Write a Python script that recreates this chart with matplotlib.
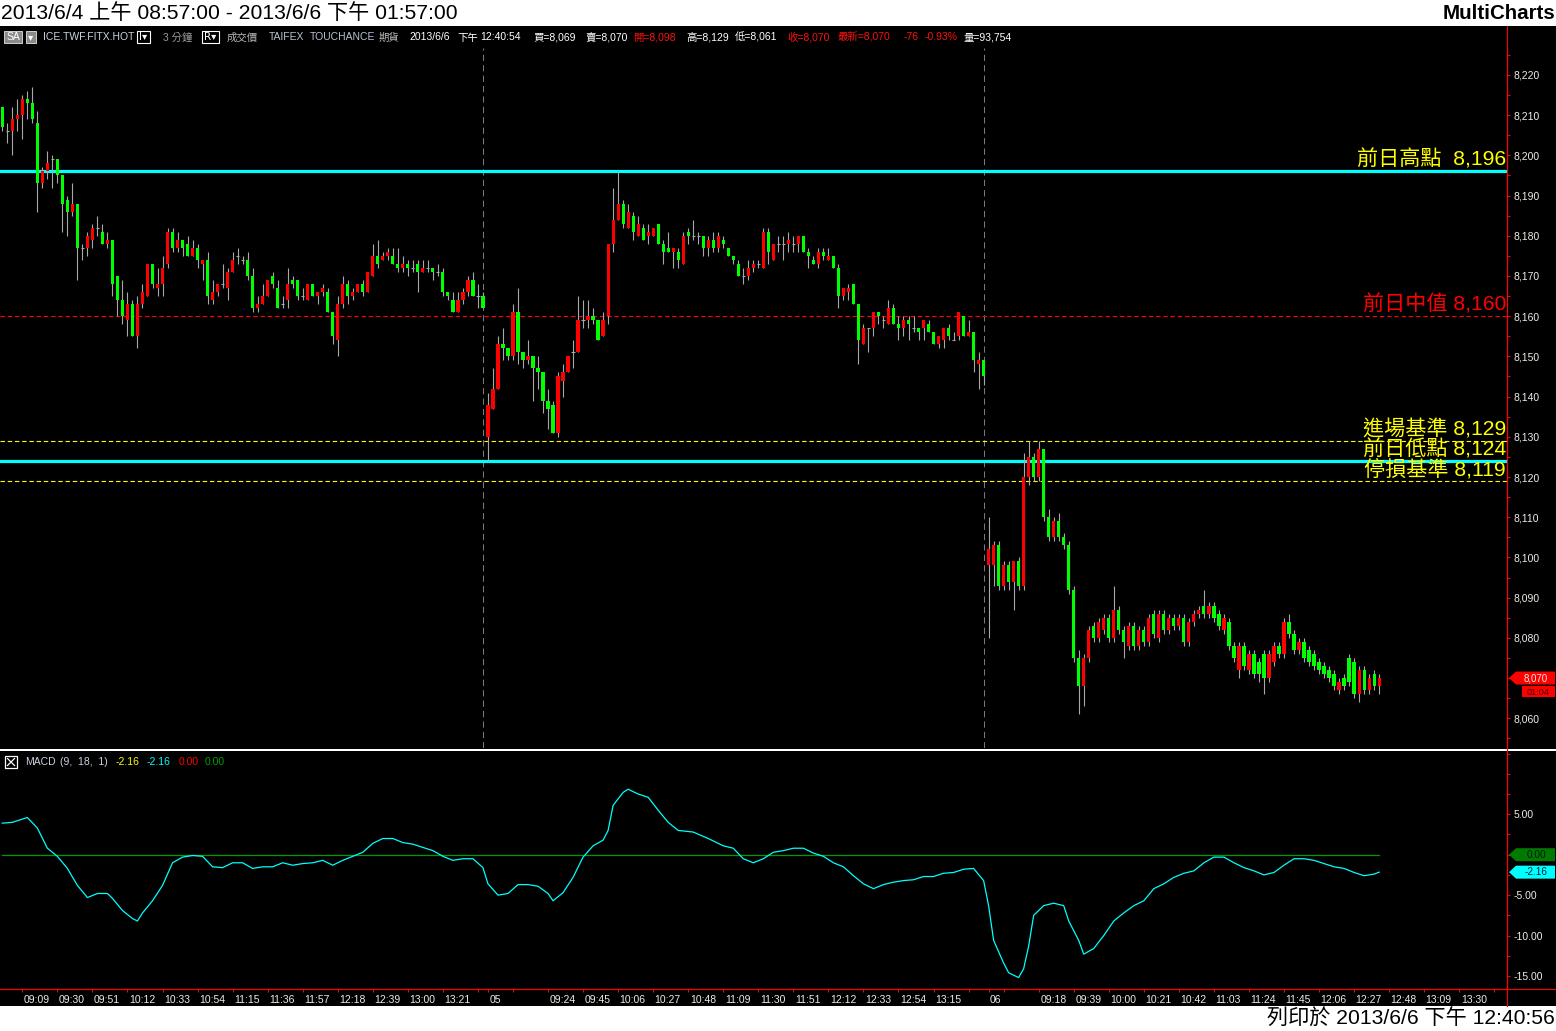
import matplotlib
matplotlib.use('Agg')
import matplotlib.pyplot as plt
import numpy as np
from matplotlib.patches import Polygon, Rectangle
from matplotlib.ticker import FixedLocator, MultipleLocator, FuncFormatter
from matplotlib.transforms import ScaledTranslation, blended_transform_factory

W, H = 1556, 1031
FONT = ['Liberation Sans', 'Noto Sans CJK TC', 'DejaVu Sans']
plt.rcParams['font.family'] = FONT

# ---------------- data (3-minute bars, TAIFEX FITX) ----------------
day1_open = [8212, 8206, 8206, 8209, 8210, 8214, 8213, 8208, 8193, 8196, 8199, 8199, 8195, 8189, 8186, 8188,
             8177, 8177, 8179, 8182, 8181, 8178, 8179, 8170, 8164, 8159, 8163, 8155, 8163, 8165, 8173, 8167,
             8168, 8173, 8181, 8177, 8179, 8178, 8175, 8177, 8173, 8174, 8164, 8166, 8168, 8167, 8171, 8175,
             8174, 8174, 8170, 8162, 8163, 8165, 8170, 8167, 8163, 8164, 8169, 8169, 8165, 8164, 8168, 8165,
             8166, 8166, 8161, 8154, 8163, 8168, 8165, 8166, 8168, 8166, 8170, 8175, 8174, 8175, 8175, 8173,
             8172, 8173, 8172, 8173, 8171, 8172, 8172, 8171, 8171, 8166, 8164, 8161, 8164, 8166, 8169, 8165, 8165]
day1_high = [8212, 8208, 8212, 8214, 8215, 8216, 8217, 8211, 8197, 8201, 8200, 8199, 8195, 8190, 8193, 8188,
             8178, 8181, 8183, 8185, 8183, 8181, 8179, 8170, 8169, 8166, 8164, 8165, 8168, 8173, 8173, 8172,
             8175, 8182, 8182, 8181, 8179, 8180, 8179, 8178, 8174, 8176, 8169, 8168, 8173, 8172, 8176, 8177,
             8175, 8176, 8172, 8165, 8168, 8169, 8171, 8169, 8165, 8172, 8170, 8169, 8167, 8168, 8168, 8166,
             8168, 8167, 8161, 8165, 8170, 8169, 8167, 8168, 8169, 8171, 8178, 8179, 8176, 8177, 8177, 8177,
             8175, 8174, 8174, 8174, 8174, 8174, 8172, 8173, 8172, 8166, 8166, 8166, 8167, 8170, 8171, 8168, 8166]
day1_low = [8206, 8203, 8200, 8206, 8204, 8209, 8208, 8186, 8192, 8194, 8192, 8193, 8181, 8180, 8185, 8169,
            8174, 8175, 8177, 8180, 8178, 8177, 8165, 8160, 8158, 8155, 8155, 8152, 8162, 8165, 8167, 8165,
            8165, 8172, 8176, 8176, 8175, 8175, 8175, 8172, 8169, 8163, 8163, 8165, 8167, 8164, 8171, 8173,
            8173, 8169, 8161, 8161, 8163, 8165, 8167, 8162, 8162, 8162, 8167, 8164, 8164, 8164, 8165, 8163,
            8165, 8161, 8153, 8150, 8162, 8163, 8164, 8166, 8165, 8166, 8170, 8172, 8174, 8174, 8173, 8171,
            8171, 8170, 8171, 8166, 8171, 8171, 8169, 8170, 8165, 8164, 8161, 8161, 8163, 8165, 8165, 8162, 8162]
day1_close = [8207, 8206, 8209, 8210, 8214, 8213, 8209, 8193, 8196, 8198, 8199, 8195, 8188, 8186, 8188, 8177,
              8177, 8180, 8182, 8182, 8178, 8179, 8168, 8164, 8160, 8163, 8155, 8163, 8166, 8173, 8168, 8168,
              8172, 8181, 8177, 8179, 8177, 8175, 8177, 8174, 8174, 8165, 8166, 8168, 8168, 8171, 8174, 8175,
              8174, 8170, 8162, 8163, 8165, 8169, 8168, 8162, 8163, 8168, 8168, 8165, 8165, 8168, 8165, 8166,
              8167, 8161, 8155, 8163, 8168, 8165, 8166, 8168, 8166, 8171, 8175, 8173, 8175, 8176, 8173, 8172,
              8173, 8172, 8172, 8171, 8172, 8172, 8171, 8171, 8166, 8165, 8161, 8164, 8166, 8169, 8165, 8165, 8162]

day2_open = [8130, 8137, 8142, 8153, 8152, 8150, 8161, 8151, 8149, 8150, 8147, 8146, 8139, 8138, 8131, 8144,
             8146, 8151, 8151, 8159, 8159, 8160, 8159, 8155, 8160, 8178, 8184, 8188, 8182, 8185, 8180, 8182,
             8180, 8180, 8183, 8178, 8177, 8176, 8176, 8173, 8181, 8180, 8180, 8180, 8177, 8179, 8177, 8179,
             8177, 8175, 8173, 8170, 8170, 8172, 8173, 8172, 8181, 8174, 8178, 8178, 8178, 8178, 8178, 8180,
             8176, 8174, 8173, 8176, 8174, 8175, 8172, 8165, 8166, 8168, 8163, 8153, 8157, 8157, 8161, 8159,
             8158, 8162, 8158, 8157, 8159, 8157, 8157, 8157, 8158, 8156, 8153, 8154, 8157, 8154, 8155, 8160,
             8155, 8156, 8148, 8149]
day2_high = [8141, 8147, 8155, 8157, 8152, 8163, 8167, 8151, 8154, 8150, 8150, 8146, 8142, 8139, 8146, 8148,
             8150, 8154, 8165, 8164, 8164, 8162, 8159, 8161, 8178, 8192, 8196, 8189, 8188, 8186, 8185, 8183,
             8183, 8182, 8183, 8179, 8181, 8177, 8177, 8181, 8182, 8184, 8181, 8180, 8180, 8181, 8181, 8180,
             8177, 8175, 8174, 8172, 8174, 8174, 8174, 8182, 8182, 8178, 8180, 8180, 8181, 8180, 8180, 8180,
             8177, 8175, 8177, 8177, 8177, 8175, 8173, 8167, 8168, 8168, 8163, 8158, 8157, 8161, 8161, 8160,
             8164, 8163, 8160, 8160, 8160, 8160, 8157, 8159, 8159, 8156, 8155, 8157, 8158, 8156, 8161, 8160,
             8159, 8156, 8151, 8149]
day2_low = [8124, 8137, 8142, 8149, 8149, 8149, 8148, 8147, 8148, 8139, 8142, 8136, 8132, 8131, 8130, 8140,
            8146, 8147, 8151, 8157, 8157, 8158, 8154, 8155, 8158, 8176, 8184, 8182, 8182, 8179, 8180, 8179,
            8178, 8180, 8178, 8173, 8176, 8172, 8172, 8173, 8178, 8179, 8178, 8175, 8175, 8176, 8176, 8177,
            8175, 8173, 8170, 8168, 8169, 8171, 8172, 8172, 8173, 8174, 8176, 8174, 8176, 8176, 8176, 8176,
            8172, 8173, 8172, 8174, 8174, 8172, 8162, 8164, 8164, 8163, 8148, 8153, 8151, 8155, 8158, 8157,
            8158, 8158, 8154, 8155, 8154, 8156, 8154, 8154, 8156, 8153, 8152, 8152, 8154, 8154, 8154, 8155,
            8155, 8146, 8142, 8143]
day2_close = [8138, 8142, 8153, 8152, 8150, 8161, 8151, 8149, 8150, 8147, 8146, 8139, 8137, 8131, 8145, 8146,
              8150, 8151, 8159, 8159, 8160, 8159, 8154, 8159, 8178, 8184, 8188, 8183, 8186, 8181, 8183, 8179,
              8181, 8182, 8178, 8176, 8176, 8177, 8174, 8180, 8180, 8180, 8180, 8177, 8179, 8177, 8180, 8178,
              8175, 8174, 8170, 8170, 8172, 8173, 8173, 8181, 8176, 8178, 8178, 8178, 8179, 8178, 8180, 8176,
              8175, 8173, 8176, 8175, 8175, 8172, 8165, 8167, 8167, 8163, 8154, 8157, 8157, 8161, 8160, 8159,
              8162, 8158, 8157, 8159, 8158, 8157, 8156, 8159, 8156, 8153, 8155, 8157, 8155, 8154, 8161, 8155,
              8156, 8149, 8149, 8145]

day3_open = [8098, 8098, 8103, 8093, 8098, 8094, 8099, 8093, 8120, 8125, 8120, 8127, 8110, 8105, 8109, 8105,
             8103, 8092, 8075, 8068, 8075, 8083, 8080, 8082, 8085, 8080, 8087, 8082, 8078, 8083, 8078, 8082,
             8079, 8086, 8080, 8086, 8082, 8085, 8083, 8085, 8079, 8084, 8086, 8088, 8086, 8088, 8086, 8082,
             8084, 8078, 8072, 8078, 8072, 8076, 8074, 8076, 8070, 8074, 8078, 8076, 8084, 8081, 8077, 8079,
             8077, 8076, 8074, 8073, 8072, 8071, 8067, 8070, 8075, 8074, 8066, 8072, 8067, 8071, 8068]
day3_high = [8110, 8104, 8104, 8099, 8099, 8096, 8100, 8126, 8129, 8126, 8129, 8127, 8112, 8110, 8111, 8106,
             8104, 8093, 8077, 8076, 8083, 8084, 8085, 8086, 8086, 8093, 8088, 8083, 8084, 8084, 8083, 8083,
             8086, 8087, 8087, 8087, 8086, 8086, 8086, 8086, 8085, 8087, 8088, 8092, 8089, 8089, 8087, 8086,
             8085, 8079, 8079, 8079, 8077, 8077, 8075, 8077, 8077, 8079, 8079, 8085, 8086, 8082, 8080, 8080,
             8078, 8077, 8075, 8074, 8073, 8072, 8070, 8071, 8076, 8075, 8073, 8073, 8071, 8072, 8071]
day3_low = [8080, 8093, 8092, 8092, 8092, 8087, 8092, 8092, 8118, 8119, 8119, 8109, 8104, 8104, 8104, 8102,
            8091, 8074, 8061, 8063, 8074, 8079, 8079, 8081, 8079, 8079, 8081, 8075, 8077, 8077, 8077, 8078,
            8078, 8080, 8079, 8081, 8081, 8082, 8082, 8078, 8078, 8083, 8085, 8085, 8085, 8084, 8082, 8081,
            8077, 8074, 8070, 8072, 8071, 8070, 8069, 8066, 8069, 8073, 8075, 8075, 8080, 8076, 8076, 8074,
            8073, 8072, 8071, 8070, 8069, 8067, 8066, 8067, 8068, 8065, 8064, 8066, 8066, 8067, 8066]
day3_close = [8102, 8103, 8093, 8098, 8094, 8099, 8093, 8120, 8125, 8120, 8127, 8110, 8105, 8109, 8105, 8103,
              8092, 8075, 8068, 8075, 8082, 8080, 8084, 8085, 8080, 8087, 8082, 8079, 8083, 8078, 8082, 8079,
              8085, 8081, 8086, 8082, 8085, 8083, 8085, 8079, 8084, 8086, 8087, 8086, 8088, 8085, 8083, 8085,
              8078, 8075, 8078, 8073, 8076, 8071, 8071, 8070, 8076, 8078, 8076, 8084, 8081, 8077, 8079, 8075,
              8074, 8073, 8072, 8071, 8070, 8068, 8069, 8068, 8069, 8066, 8072, 8067, 8070, 8068, 8070]

macd_bar = [0, 2, 4, 5, 7, 9, 11, 13, 15, 17, 19, 21, 22, 24, 26, 27, 28, 30, 32, 34, 36, 38, 40, 42, 44, 46,
            48, 50, 52, 54, 56, 58, 60, 62, 64, 66, 68, 70, 72, 74, 76, 78, 80, 82, 84, 86, 88, 90, 92, 94, 96,
            97, 99, 101, 103, 105, 107, 109, 110, 112, 114, 116, 118, 120, 121, 122, 124, 125, 127, 129, 131,
            133, 135, 138, 141, 144, 146, 148, 150, 152, 154, 156, 158, 160, 162, 164, 166, 168, 170, 172,
            174, 176, 178, 180, 182, 184, 186, 188, 190, 192, 194, 196, 197, 198, 200, 201, 203, 204, 205,
            206, 208, 210, 212, 213, 215, 216, 218, 220, 222, 224, 226, 228, 230, 232, 234, 236, 238, 240,
            242, 244, 246, 248, 250, 252, 254, 256, 258, 260, 262, 264, 266, 268, 270, 272, 274, 275]
macd_val = [3.9, 4.0, 4.4, 4.6, 3.3, 0.8, -0.2, -1.7, -3.8, -5.3, -4.8, -4.8, -5.4, -6.9, -7.9, -8.2, -7.2,
            -5.7, -3.8, -1.0, -0.3, -0.1, -0.2, -1.5, -1.6, -1.0, -1.0, -1.7, -1.5, -1.5, -1.0, -1.3, -1.1,
            -1.0, -0.7, -1.3, -0.7, -0.2, 0.3, 1.4, 2.0, 2.0, 1.5, 1.3, 0.9, 0.5, -0.2, -0.7, -0.5, -0.5,
            -1.6, -3.6, -5.0, -4.8, -3.7, -3.7, -3.9, -4.8, -5.7, -4.7, -2.8, -0.3, 1.1, 1.8, 3.0, 6.1, 7.7,
            8.1, 7.5, 7.1, 5.5, 4.0, 3.0, 2.8, 2.0, 1.1, 0.8, -0.5, -1.0, -0.5, 0.3, 0.5, 0.8, 0.8, 0.2,
            -0.2, -1.0, -1.5, -2.6, -3.6, -4.2, -3.7, -3.4, -3.2, -3.1, -2.7, -2.7, -2.3, -2.2, -1.8, -1.7,
            -3.2, -6.3, -10.6, -13.4, -14.6, -15.2, -14.1, -11.3, -7.5, -6.3, -6.0, -6.3, -8.2, -10.6,
            -12.3, -11.6, -10.0, -8.2, -7.2, -6.3, -5.7, -4.2, -3.6, -2.8, -2.3, -2.0, -1.0, -0.3, -0.3,
            -1.0, -1.6, -2.0, -2.5, -2.2, -1.3, -0.5, -0.5, -0.7, -1.1, -1.5, -1.7, -2.2, -2.6, -2.4, -2.16]

ref_levels = [8196, 8160, 8129, 8124, 8119]
ref_labels = ['前日高點  8,196', '前日中值 8,160', '進場基準 8,129', '前日低點 8,124', '停損基準 8,119']

day_end_bars = [96, 196]
time_tick_bars = [4, 11, 18, 25, 32, 39, 46, 53, 60, 67, 74, 81, 88, 95, 97, 102, 109, 116, 123, 130, 137,
                  144, 151, 158, 165, 172, 179, 186, 193, 197, 200, 207, 214, 221, 228, 235, 242, 249, 256,
                  263, 270, 277, 284, 291, 298]
time_tick_labels = ['09:09', '09:30', '09:51', '10:12', '10:33', '10:54', '11:15', '11:36', '11:57', '12:18',
                    '12:39', '13:00', '13:21', '', '05', '', '09:24', '09:45', '10:06', '10:27', '10:48',
                    '11:09', '11:30', '11:51', '12:12', '12:33', '12:54', '13:15', '', '06', '', '09:18',
                    '09:39', '10:00', '10:21', '10:42', '11:03', '11:24', '11:45', '12:06', '12:27', '12:48',
                    '13:09', '13:30', '']
price_ticks = list(range(8060, 8221, 10))
macd_ticks = [5, 0, -5, -10, -15]
last_price = 8070
last_macd = -2.16
bar_countdown = '01:04'

# ---------------- figure ----------------
o = np.array(day1_open + day2_open + day3_open, float)
h = np.array(day1_high + day2_high + day3_high, float)
l = np.array(day1_low + day2_low + day3_low, float)
c = np.array(day1_close + day2_close + day3_close, float)
n = len(o)
idx = np.arange(n)

fig = plt.figure(figsize=(W / 100, H / 100), dpi=100, facecolor='white')


def box(x0, y0, x1, y1):
    return [x0 / W, 1 - y1 / H, (x1 - x0) / W, (y1 - y0) / H]


bg = fig.add_axes(box(0, 26, W, 1006))
bg.set_facecolor('black')
bg.set_xticks([]); bg.set_yticks([])
for s in bg.spines.values():
    s.set_visible(False)

XL = (-0.46, 300.54)
TICKC = '#EDEDE6'

# ---- price pane ----
ax = fig.add_axes(box(0, 48, 1507, 748))
ax.set_facecolor('black')
ax.set_xlim(*XL)
ax.set_ylim(8052.6, 8226.7)
for k in ('left', 'top', 'bottom'):
    ax.spines[k].set_visible(False)
ax.spines['right'].set_color('red')
ax.spines['right'].set_linewidth(0.8)
ax.set_xticks([])
ax.yaxis.tick_right()
ax.yaxis.set_major_locator(FixedLocator(price_ticks))
ax.yaxis.set_minor_locator(MultipleLocator(5))
# the axis label under the last-price tag is hidden by the tag in the reference
ax.yaxis.set_major_formatter(FuncFormatter(
    lambda v, p: '' if abs(v - last_price) < 1e-6 else f'{int(round(v)):,}'))
ax.tick_params(axis='y', which='both', colors='red', labelcolor=TICKC, length=2.5, width=0.8,
               direction='out', pad=2.5, labelsize=7.5)

for b in day_end_bars:
    ax.axvline(b, color='#7A7A7A', lw=0.75, ls=(0, (6, 4)), zorder=1)

ax.axhline(ref_levels[0], color='#00FFFF', lw=2.3, zorder=2)
ax.axhline(ref_levels[3], color='#00FFFF', lw=2.3, zorder=2)
ax.axhline(ref_levels[1], color='#FF0000', lw=0.8, ls=(0, (4, 2.5)), zorder=2)
ax.axhline(ref_levels[2], color='#FFFF00', lw=0.8, ls=(0, (4, 2.5)), zorder=2)
ax.axhline(ref_levels[4], color='#FFFF00', lw=0.8, ls=(0, (4, 2.5)), zorder=2)

up = c > o
dn = c < o
eq = c == o
ax.vlines(idx, l, h, color='#A8A8A8', lw=0.8, zorder=3)
ax.bar(idx[up], (c - o)[up], bottom=o[up], width=0.64, color='#FF0000', lw=0, zorder=4)
ax.bar(idx[dn], (o - c)[dn], bottom=c[dn], width=0.64, color='#00FF00', lw=0, zorder=4)
ax.hlines(c[eq], idx[eq] - 0.32, idx[eq] + 0.32, color='#A8A8A8', lw=0.8, zorder=4)

ref_colors = ['#FFFF00', '#FF0000', '#FFFF00', '#FFFF00', '#FFFF00']
tr = blended_transform_factory(ax.transAxes, ax.transData)
for lv, lab, col in zip(ref_levels, ref_labels, ref_colors):
    t = ax.text(0.9994, lv, lab, transform=tr, ha='right', va='bottom', color=col, fontsize=15.2, zorder=6)
    t.set_transform(tr + ScaledTranslation(0, 1.5 / 100, fig.dpi_scale_trans))

# ---- MACD pane ----
m = fig.add_axes(box(0, 752, 1507, 989))
m.set_facecolor('black')
m.set_xlim(*XL)
m.set_ylim(-16.61, 12.70)
for k in ('left', 'top'):
    m.spines[k].set_visible(False)
m.spines['right'].set_color('red')
m.spines['bottom'].set_color('red')
m.spines['right'].set_linewidth(0.8)
m.spines['bottom'].set_linewidth(0.8)
m.yaxis.tick_right()
m.yaxis.set_major_locator(FixedLocator(macd_ticks))
m.yaxis.set_minor_locator(MultipleLocator(2.5))
m.yaxis.set_major_formatter(FuncFormatter(lambda v, p: '' if abs(v) < 1e-9 else f'{v:.2f}'))
m.tick_params(axis='y', which='both', colors='red', labelcolor=TICKC, length=2.5, width=0.8,
              direction='out', pad=2.5, labelsize=7.5)
m.set_xticks(time_tick_bars)
m.set_xticklabels(time_tick_labels)
m.tick_params(axis='x', colors='red', labelcolor=TICKC, length=2.5, width=0.8, direction='out',
              pad=2.0, labelsize=7.5)
for lab in m.get_xticklabels():
    lab.set_ha('left')
    lab.set_transform(lab.get_transform() + ScaledTranslation(1.5 / 100, 0, fig.dpi_scale_trans))

m.plot([0, n - 1], [0, 0], color='#009A00', lw=0.9, zorder=2)
m.plot(macd_bar, macd_val, color='#00FFFF', lw=0.9, zorder=3)

# ---- overlay (chrome) ----
ov = fig.add_axes([0, 0, 1, 1], facecolor='none')
ov.set_xlim(0, W)
ov.set_ylim(H, 0)
ov.axis('off')


def ypx(axis, v):
    return H - axis.transData.transform((0, v))[1]


ov.add_patch(Rectangle((0, 748.6), W, 2.6, color='white', lw=0))
ov.plot([1507.5, 1507.5], [26, 1006], color='red', lw=0.8)
ov.plot([0, W], [988.8, 988.8], color='red', lw=0.8)

# title / footer
ov.text(1, 13.5, '2013/6/4 上午 08:57:00 - 2013/6/6 下午 01:57:00', fontsize=15.2, color='black',
        ha='left', va='center')
ov.text(1555, 13.5, 'MultiCharts', fontsize=14.8, fontweight='bold', color='black', ha='right', va='center')
ov.text(1555, 1019, '列印於 2013/6/6 下午 12:40:56', fontsize=15.2, color='black', ha='right', va='center')

# info bar
FS = 7.5
YI = 37.5
ov.add_patch(Rectangle((4, 31), 18, 12, facecolor='#8A8A8A', edgecolor='#D0D0D0', lw=0.7))
ov.text(13, YI, 'SA', fontsize=FS, color='white', ha='center', va='center')
ov.add_patch(Rectangle((26, 31), 10, 12, facecolor='#8A8A8A', edgecolor='#D0D0D0', lw=0.7))
ov.text(31, YI, '▾', fontsize=FS, color='white', ha='center', va='center', family='DejaVu Sans')
ov.add_patch(Rectangle((137, 31), 13, 12, facecolor='black', edgecolor='white', lw=0.8))
ov.text(143.5, YI, 'I▾', fontsize=FS, color='white', ha='center', va='center', family='DejaVu Sans')
ov.add_patch(Rectangle((202, 31), 17, 12, facecolor='black', edgecolor='white', lw=0.8))
ov.text(210.5, YI, 'R▾', fontsize=FS, color='white', ha='center', va='center', family='DejaVu Sans')
info = [(43, 'ICE.TWF.FITX.HOT', '#C9D2E2'), (163, '3 分鐘', '#9A9A9A'), (227, '成交價', '#B8B8B8'),
        (269, 'TAIFEX', '#B8C0D0'), (310, 'TOUCHANCE', '#B8C0D0'), (379, '期貨', '#B8B8B8'),
        (409, '2013/6/6', 'white'), (457, '下午', 'white'), (480, '12:40:54', 'white'),
        (533, '買=8,069', 'white'), (585, '賣=8,070', 'white'), (633, '開=8,098', '#FF1010'),
        (686, '高=8,129', 'white'), (735, '低=8,061', 'white'), (787, '收=8,070', '#FF1010'),
        (838, '最新=8,070', '#FF1010'), (904, '-76', '#FF1010'), (925, '-0.93%', '#FF1010'),
        (964, '量=93,754', 'white')]
for x0, s, col in info:
    ov.text(x0, YI, s, fontsize=FS, color=col, ha='left', va='center')

# MACD legend
ov.add_patch(Rectangle((5, 756), 12, 12, facecolor='black', edgecolor='white', lw=0.9))
ov.plot([7.5, 14.5], [758.5, 765.5], color='white', lw=0.9)
ov.plot([7.5, 14.5], [765.5, 758.5], color='white', lw=0.9)
leg = [(25, 'MACD', '#C9D2E2'), (60, '(9,  18,  1)', '#C9D2E2'), (116, '-2.16', '#FFFF00'),
       (147, '-2.16', '#00FFFF'), (179, '0.00', '#FF0000'), (205, '0.00', '#00A000')]
for x0, s, col in leg:
    ov.text(x0, 762, s, fontsize=FS, color=col, ha='left', va='center')


def tag(y, fc, txt, tc, fs=7.2):
    ov.add_patch(Polygon([(1509, y), (1516, y - 6.5), (1555, y - 6.5), (1555, y + 6.5), (1516, y + 6.5)],
                         closed=True, facecolor=fc, edgecolor=fc, lw=0))
    ov.text(1536, y, txt, fontsize=fs, color=tc, ha='center', va='center')


yp = ypx(ax, last_price)
tag(yp, '#FF0000', f'{last_price:,}', '#FFE8E8', fs=7.0)
ov.add_patch(Rectangle((1522, yp + 7.5), 33, 11.5, facecolor='#FF0000', lw=0))
ov.text(1538.5, yp + 14.0, bar_countdown, fontsize=6.6, color='#3A0000', ha='center', va='center')
tag(ypx(m, 0), '#007A00', '0.00', '#001800')
tag(ypx(m, last_macd), '#00FFFF', f'{last_macd:.2f}', '#002040')

fig.savefig('out.png', dpi=100, facecolor='white')
